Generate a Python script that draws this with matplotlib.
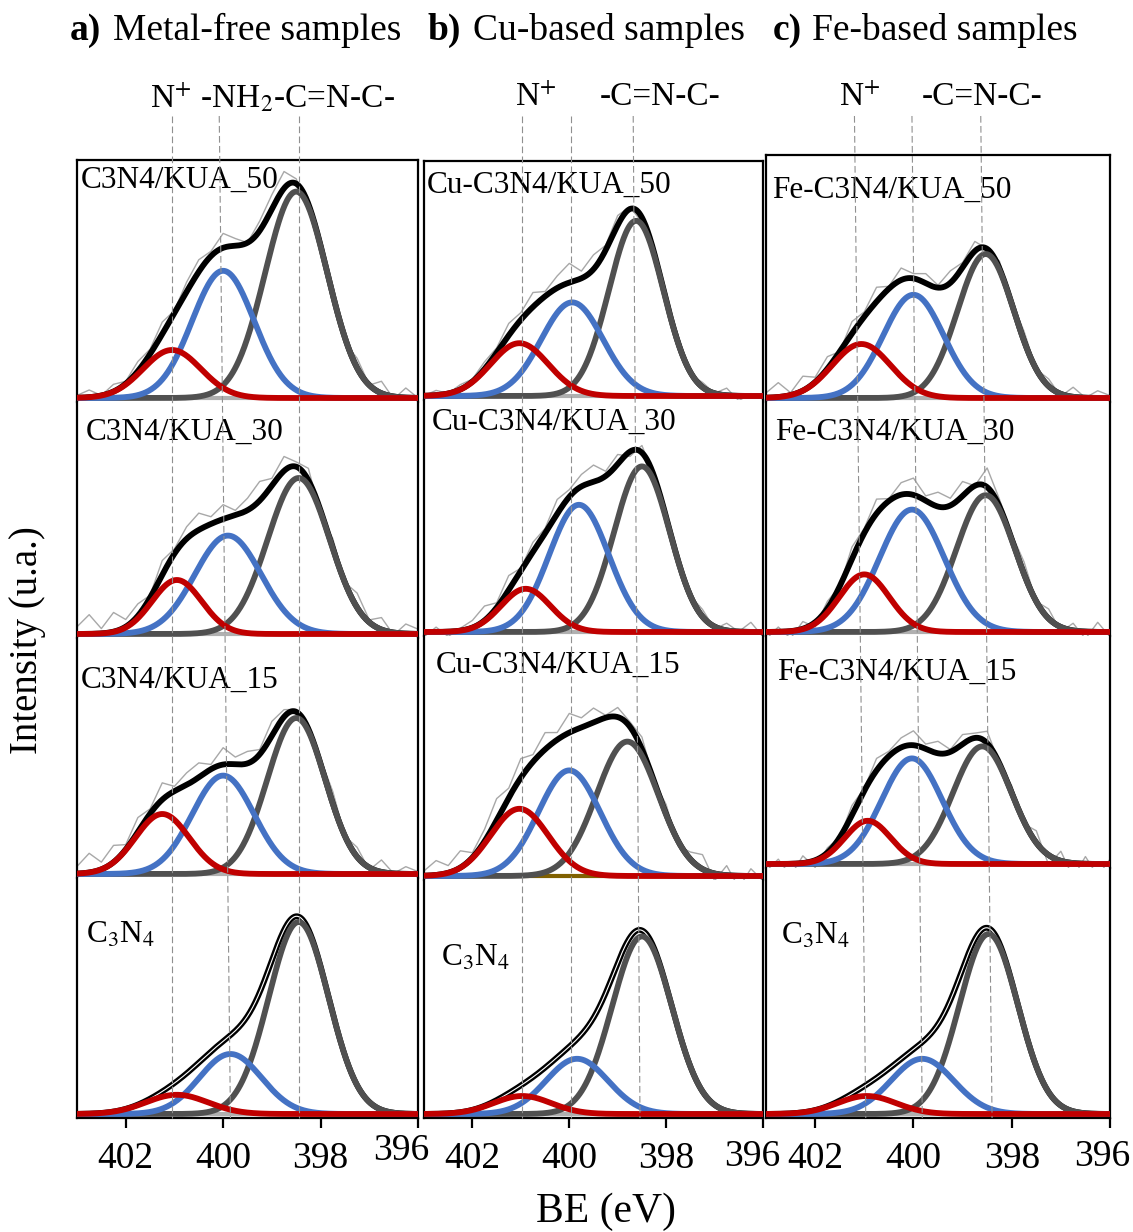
import numpy as np
import matplotlib
matplotlib.use('Agg')
import matplotlib.pyplot as plt
import matplotlib.transforms as mtransforms

plt.rcParams['font.family'] = ['Liberation Serif', 'DejaVu Serif']
plt.rcParams['mathtext.fontset'] = 'stix'

W, H = 1133, 1232

# peak fits: (centre eV, height, fwhm eV) for red N+, blue NH2, gray C=N-C
# rows top->bottom: _50, _30, _15, pristine C3N4
samples_a = ['C3N4/KUA_50', 'C3N4/KUA_30', 'C3N4/KUA_15', 'C$_3$N$_4$']
samples_b = ['Cu-C3N4/KUA_50', 'Cu-C3N4/KUA_30', 'Cu-C3N4/KUA_15', 'C$_3$N$_4$']
samples_c = ['Fe-C3N4/KUA_50', 'Fe-C3N4/KUA_30', 'Fe-C3N4/KUA_15', 'C$_3$N$_4$']

red_a = [(401.05, 0.20, 1.4), (400.95, 0.225, 1.2), (401.25, 0.25, 1.3), (400.95, 0.08, 1.5)]
blue_a = [(400.0, 0.53, 1.5), (399.9, 0.41, 1.6), (400.0, 0.41, 1.5), (399.85, 0.25, 1.5)]
gray_a = [(398.5, 0.86, 1.5), (398.45, 0.65, 1.5), (398.5, 0.65, 1.4), (398.45, 0.80, 1.45)]

red_b = [(401.03, 0.22, 1.4), (400.9, 0.18, 1.2), (401.03, 0.28, 1.4), (400.97, 0.075, 1.4)]
blue_b = [(399.94, 0.39, 1.5), (399.8, 0.53, 1.45), (400.0, 0.44, 1.5), (399.84, 0.23, 1.5)]
gray_b = [(398.62, 0.73, 1.32), (398.5, 0.69, 1.35), (398.8, 0.56, 1.5), (398.5, 0.74, 1.45)]

red_c = [(401.06, 0.225, 1.4), (401.0, 0.24, 1.2), (400.93, 0.18, 1.1), (400.95, 0.075, 1.4)]
blue_c = [(400.0, 0.43, 1.45), (400.03, 0.51, 1.55), (400.03, 0.44, 1.45), (399.82, 0.23, 1.5)]
gray_c = [(398.53, 0.60, 1.35), (398.53, 0.57, 1.4), (398.6, 0.49, 1.4), (398.47, 0.75, 1.4)]

# raw spectrum minus envelope, read every 0.25 eV from 403 to 396
raw_be = [403 - 0.25 * i for i in range(29)]
resid_a = [
    [0.01, 0.03, 0.0, 0.03, 0.01, 0.04, 0.02, 0.05, 0.01, 0.04, 0.05, 0.02, 0.06, 0.03, 0.0,
     0.04, 0.06, 0.07, 0.02, -0.02, 0.03, 0.01, -0.02, 0.04, 0.0, 0.05, -0.01, 0.04, 0.0],
    [0.03, 0.08, 0.02, 0.08, 0.03, 0.05, 0.01, 0.06, 0.02, 0.05, 0.07, 0.03, 0.06, 0.02, 0.05,
     0.08, 0.03, 0.06, 0.02, 0.05, -0.02, 0.04, 0.0, 0.06, 0.01, 0.05, -0.01, 0.04, 0.02],
    [0.03, 0.08, 0.03, 0.07, 0.02, 0.06, 0.02, 0.07, 0.02, 0.05, 0.06, 0.02, 0.07, 0.03, 0.05,
     0.02, 0.06, 0.03, 0.01, -0.02, 0.02, 0.05, 0.0, 0.04, -0.01, 0.05, 0.0, 0.03, 0.01],
    [0.0] * 29,
]
resid_b = [
    [0.0, 0.02, 0.0, 0.02, 0.01, 0.03, 0.02, 0.05, 0.03, 0.06, 0.02, 0.05, 0.08, 0.03, 0.06,
     0.02, 0.04, 0.01, -0.02, 0.02, 0.0, 0.03, -0.01, 0.02, 0.0, 0.03, -0.02, 0.01, 0.0],
    [-0.02, 0.02, -0.02, 0.01, 0.03, 0.06, 0.02, 0.06, 0.01, 0.04, 0.02, 0.06, 0.03, 0.05, 0.07,
     0.02, 0.04, -0.02, 0.03, 0.0, -0.02, 0.02, 0.0, 0.03, -0.01, 0.03, 0.0, 0.04, -0.02],
    [0.02, 0.06, 0.03, 0.07, 0.02, 0.05, 0.09, 0.04, 0.08, 0.03, 0.07, 0.03, 0.08, 0.04, 0.06,
     0.01, 0.04, 0.02, 0.05, 0.0, 0.04, -0.02, 0.03, 0.06, -0.03, 0.04, -0.05, 0.03, -0.02],
    [0.0] * 29,
]
resid_c = [
    [0.02, 0.06, 0.01, 0.06, 0.02, 0.05, 0.0, 0.05, 0.02, 0.06, 0.01, 0.05, 0.02, 0.04, 0.01,
     0.05, 0.02, 0.04, 0.0, 0.03, 0.01, 0.04, 0.0, 0.03, -0.01, 0.04, 0.0, 0.03, 0.01],
    [-0.03, 0.02, -0.03, 0.03, -0.02, 0.03, 0.0, 0.05, 0.02, 0.06, 0.01, 0.05, 0.07, 0.02, 0.06,
     0.03, 0.06, 0.0, 0.08, 0.03, 0.02, 0.05, 0.0, 0.04, -0.02, 0.03, -0.03, 0.04, -0.02],
    [-0.03, 0.02, -0.05, 0.03, -0.03, 0.02, 0.0, 0.04, 0.01, 0.05, 0.02, 0.04, 0.06, 0.02, 0.05,
     0.01, 0.04, 0.02, 0.05, 0.0, 0.03, -0.01, 0.05, -0.04, 0.04, -0.06, 0.03, -0.05, 0.02],
    [0.0] * 29,
]

# dashed guide lines, eV at top and bottom of each column
guides_a = [(401.05, 401.05), (400.08, 399.85), (398.45, 398.45)]
guides_b = [(400.97, 400.97), (399.96, 399.96), (398.68, 398.54)]
guides_c = [(401.2, 400.97), (400.03, 399.82), (398.63, 398.4)]

ticks = [402, 400, 398, 396]

RED, BLUE, DGRAY = '#c00000', '#4472c4', '#505050'


def gauss(x, p):
    c, h, w = p
    return h * np.exp(-4 * np.log(2) * (x - c) ** 2 / w ** 2)


fig = plt.figure(figsize=(W / 100, H / 100), dpi=100)

columns = [
    dict(x0=77, x1=418, rows=[160, 402, 638, 878, 1118], names=samples_a,
         red=red_a, blue=blue_a, gray=gray_a, resid=resid_a, guides=guides_a,
         lab=[(81, 180), (86, 432), (81, 680), (86, 935)], off396=(-17, 8)),
    dict(x0=424, x1=763, rows=[161, 400, 636, 880, 1118], names=samples_b,
         red=red_b, blue=blue_b, gray=gray_b, resid=resid_b, guides=guides_b,
         lab=[(427, 185), (432, 422), (436, 665), (441, 958)], off396=(-11, 2)),
    dict(x0=766, x1=1110, rows=[155, 402, 636, 868, 1118], names=samples_c,
         red=red_c, blue=blue_c, gray=gray_c, resid=resid_c, guides=guides_c,
         lab=[(772, 190), (775, 432), (777, 672), (781, 936)], off396=(-8, 2)),
]
base_cols = [['#b0b0b0'] * 4, ['#b0b0b0', '#b0b0b0', '#806000', '#b0b0b0'], ['#b0b0b0'] * 4]

x = np.linspace(403, 396, 500)
for ci, col in enumerate(columns):
    axes = []
    for r in range(4):
        top, bot = col['rows'][r], col['rows'][r + 1]
        ax = fig.add_axes([col['x0'] / W, 1 - bot / H, (col['x1'] - col['x0']) / W, (bot - top) / H])
        ax.set_xlim(403, 396)
        ax.set_ylim(-4 / 240, (bot - top - 4) / 240)
        ax.set_yticks([])
        env = gauss(x, col['red'][r]) + gauss(x, col['blue'][r]) + gauss(x, col['gray'][r])
        rb = np.array(raw_be)
        raw = (gauss(rb, col['red'][r]) + gauss(rb, col['blue'][r]) + gauss(rb, col['gray'][r])
               + np.array(col['resid'][r]))
        ax.axhline(0, color=base_cols[ci][r], lw=3, zorder=1)
        if r < 3:
            ax.plot(rb, raw, color='#a8a8a8', lw=1, zorder=2)
        ax.plot(x, env, color='black', lw=4.2, zorder=3, solid_capstyle='butt')
        if r == 3:
            ax.plot(x, env, color='white', lw=0.8, zorder=3.5)
        ax.plot(x, gauss(x, col['gray'][r]), color=DGRAY, lw=4.2, zorder=4)
        ax.plot(x, gauss(x, col['blue'][r]), color=BLUE, lw=4.2, zorder=5)
        ax.plot(x, gauss(x, col['red'][r]), color=RED, lw=4.2, zorder=6)
        for s in ['left', 'right', 'top', 'bottom']:
            ax.spines[s].set_linewidth(1.6)
        ax.spines['top'].set_visible(r == 0)
        ax.spines['bottom'].set_visible(r == 3)
        if r == 3:
            ax.set_xticks(ticks)
            ax.set_xticklabels([str(t) for t in ticks])
            ax.tick_params(axis='x', direction='out', length=7, width=1.6, pad=10, labelsize=27)
            lbl = ax.get_xticklabels()[-1]
            dx, dy = col['off396']
            lbl.set_transform(lbl.get_transform() + mtransforms.ScaledTranslation(dx / 100, dy / 100, fig.dpi_scale_trans))
        else:
            ax.set_xticks([])
        lx, ly = col['lab'][r]
        fig.text(lx / W, 1 - ly / H, col['names'][r], fontsize=22.5, va='center', ha='left')
        axes.append(ax)
    # guide lines across the whole column
    a_top, a_bot = axes[0], axes[3]
    for g_top, g_bot in col['guides']:
        xt = a_top.transData.transform((g_top, 0))[0] / W
        xb = a_bot.transData.transform((g_bot, 0))[0] / W
        fig.add_artist(plt.Line2D([xt, xb], [1 - 116 / H, 1 - 1118 / H], color='#909090',
                                  lw=0.8, ls=(0, (6, 3)), zorder=10))

# titles
for bx, b, tx, t in [(70, 'a)', 113, 'Metal-free samples'), (428, 'b)', 473, 'Cu-based samples'),
                     (773, 'c)', 812, 'Fe-based samples')]:
    fig.text(bx / W, 1 - 30 / H, b, fontsize=27, fontweight='bold', va='center', ha='left')
    fig.text(tx / W, 1 - 30 / H, t, fontsize=27, va='center', ha='left')

# component labels
fig.text(150 / W, 1 - 97 / H, 'N$^{+}$ -NH$_2$-C=N-C-', fontsize=24, va='center', ha='left')
fig.text(536 / W, 1 - 97 / H, 'N$^{+}$', fontsize=24, va='center', ha='center')
fig.text(660 / W, 1 - 97 / H, '-C=N-C-', fontsize=24, va='center', ha='center')
fig.text(860 / W, 1 - 97 / H, 'N$^{+}$', fontsize=24, va='center', ha='center')
fig.text(982 / W, 1 - 97 / H, '-C=N-C-', fontsize=24, va='center', ha='center')

fig.text(606 / W, 1 - 1212 / H, 'BE (eV)', fontsize=30, va='center', ha='center')
fig.text(28 / W, 1 - 640 / H, 'Intensity (u.a.)', fontsize=28, va='center', ha='center', rotation=90)

fig.savefig('out.png', dpi=100)
